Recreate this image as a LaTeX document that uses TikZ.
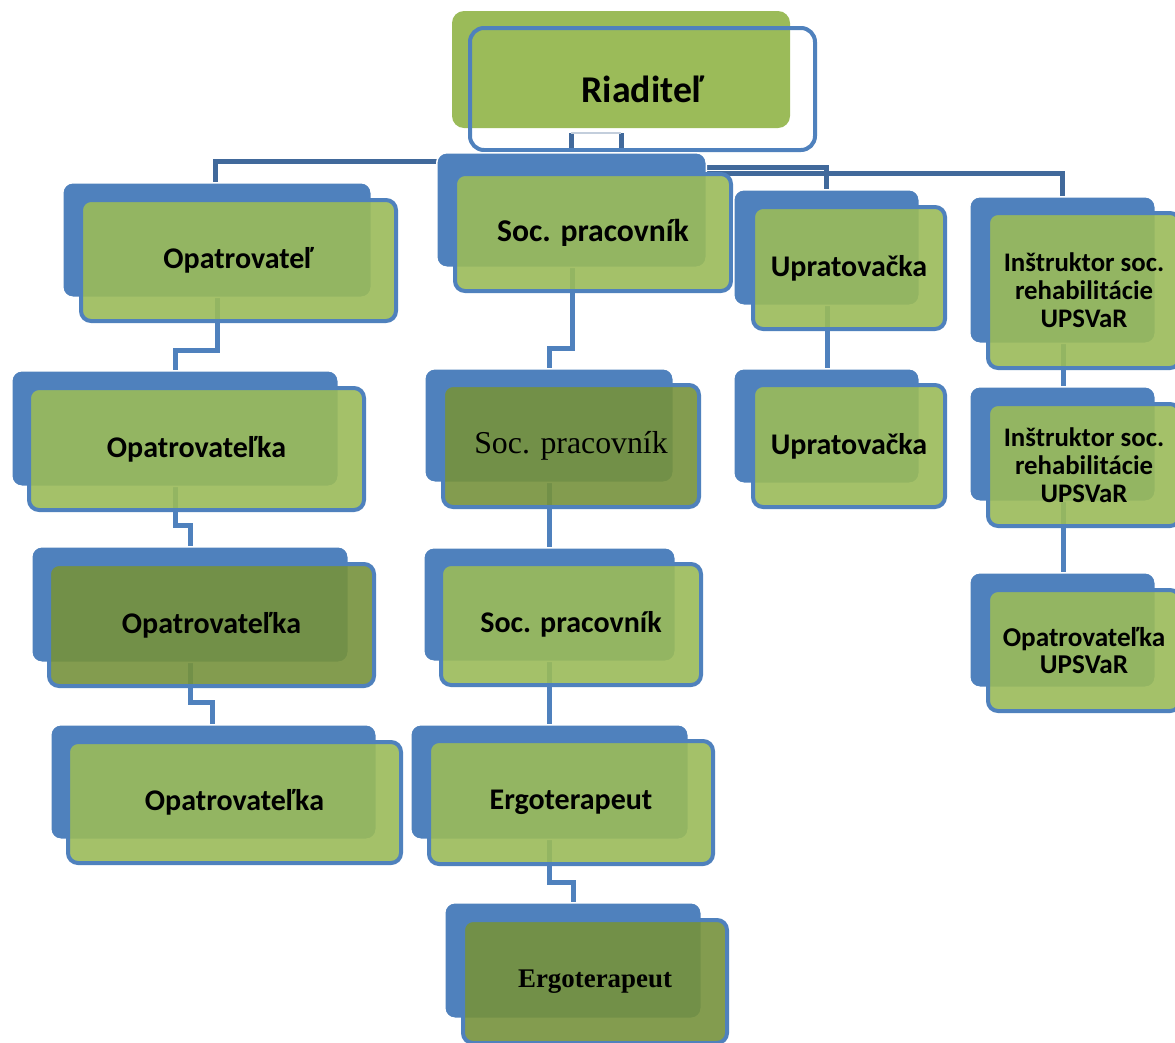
\documentclass[tikz,border=0pt]{standalone}
\usepackage{fontspec}
\setmainfont{Carlito}
\newfontfamily\tnr{Liberation Serif}
\definecolor{blueA}{HTML}{4F81BD}
\definecolor{busB}{HTML}{41699B}
\definecolor{greenA}{HTML}{9BBB59}
\definecolor{greenD}{HTML}{76923C}
\definecolor{thinB}{HTML}{C3CEDC}
\pgfdeclarelayer{paper}
\pgfdeclarelayer{bg}
\pgfsetlayers{paper,bg,main}
\tikzset{
 backbox/.style={rounded corners=10pt, fill=blueA, draw=white, line width=1.5pt, inner sep=0pt},
 frontbox/.style={rounded corners=10pt, draw=blueA, line width=4pt, fill=greenA, fill opacity=0.9, text opacity=1, inner sep=0pt, align=center, font=\bfseries\fontsize{30}{35}\selectfont},
 darkbox/.style={frontbox, fill=greenD},
 conn/.style={draw=blueA, line width=5pt},
 bus/.style={draw=busB, line width=5pt},
 smallfont/.style={font=\bfseries\fontsize{26.8}{28}\selectfont},
}
\newcommand\backrect[5]{\node[backbox, minimum width={#4-#2-1.5}, minimum height={#5-#3-1.5}] (#1) at ({(#2+#4)/2},{(#3+#5)/2}) {};}
\newcommand\frontrect[7]{\node[#6, minimum width={#4-#2-4}, minimum height={#5-#3-4}] (#1) at ({(#2+#4)/2},{(#3+#5)/2}) {#7};}
\begin{document}
\begin{tikzpicture}[x=1pt,y=-1pt]
\begin{pgfonlayer}{paper}
\fill[white] (0,0) rectangle (1175,1042);
\end{pgfonlayer}
\useasboundingbox (0,0) rectangle (1175,1042);

% Riaditel
\node[fill=greenA, rounded corners=12pt, minimum width=338pt, minimum height=117pt, inner sep=0pt] (riadG) at (621,69.5) {};
\node[draw=blueA, line width=4pt, rounded corners=14pt, minimum width=345pt, minimum height=122pt, inner sep=0pt, font=\bfseries\fontsize{37.8}{42}\selectfont] (riadO) at (642.5,89) {Riaditeľ};

% left column
\backrect{opatB}{62}{182}{372}{298}
\frontrect{opatF}{79}{198}{398}{323}{frontbox}{Opatrovateľ}
\backrect{opk1B}{11}{370}{339}{487}
\frontrect{opk1F}{27}{386}{366}{512}{frontbox}{Opatrovateľka}
\backrect{opk2B}{31}{546}{349}{663}
\frontrect{opk2F}{47}{562}{376}{688}{darkbox}{Opatrovateľka}
\backrect{opk3B}{50}{724}{377}{840}
\frontrect{opk3F}{66}{740}{403}{865}{frontbox}{Opatrovateľka}

% middle column
\backrect{soc1B}{436}{152}{707}{268}
\frontrect{soc1F}{453}{172}{733}{293}{frontbox,font=\bfseries\fontsize{31.7}{35}\selectfont}{Soc. pracovník}
\backrect{soc2B}{424}{368}{674}{483}
\frontrect{soc2F}{441}{383}{701}{509}{darkbox,font=\tnr\fontsize{31.8}{36}\selectfont}{Soc. pracovník}
\backrect{soc3B}{423}{547}{676}{662}
\frontrect{soc3F}{439}{562}{703}{687}{frontbox}{Soc. pracovník}
\backrect{erg1B}{410}{724}{689}{840}
\frontrect{erg1F}{427}{739}{715}{866}{frontbox}{Ergoterapeut}
\backrect{erg2B}{444}{902}{702}{1019}
\frontrect{erg2F}{461}{918}{729}{1045}{darkbox,font=\tnr\bfseries\fontsize{26.9}{30}\selectfont}{Ergoterapeut}

% Upratovacka column
\backrect{upr1B}{733}{189}{920}{306}
\frontrect{upr1F}{751}{205}{947}{331}{frontbox}{Upratovačka}
\backrect{upr2B}{733}{368}{920}{484}
\frontrect{upr2F}{751}{383}{947}{509}{frontbox}{Upratovačka}

% right column
\backrect{ins1B}{969}{196}{1156}{344}
\frontrect{ins1F}{986}{211}{1182}{370}{frontbox,smallfont}{Inštruktor soc.\\rehabilitácie\\UPSVaR}
\backrect{ins2B}{969}{386}{1156}{502}
\frontrect{ins2F}{986}{402}{1182}{528}{frontbox,smallfont}{Inštruktor soc.\\rehabilitácie\\UPSVaR}
\backrect{opuB}{969}{572}{1156}{688}
\frontrect{opuF}{986}{588}{1182}{713}{frontbox,font=\bfseries\fontsize{27.2}{27.5}\selectfont}{Opatrovateľka\\UPSVaR}

\coordinate (rstubL) at (571,133);
\coordinate (rstubR) at (621,133);

\begin{pgfonlayer}{bg}
% top bus
\draw[bus] (rstubL) -- (rstubL |- riadO.south);
\draw[bus] (rstubR) -- (rstubR |- riadO.south);
\draw[thinB, line width=1.5pt] (rstubL) -- (rstubR);
\draw[bus] (215,0 |- opatB.north) |- (soc1B.center |- 0,161);
\draw[bus] (soc1B.center |- 0,167) -| (upr1B.north);
\draw[bus] (soc1B.center |- 0,173) -| (ins1B.north);
% left chain
\draw[conn] (217,0 |- opatB.south) -- (217,350) -- (175,350) -- (175,0 |- opk1B.north);
\draw[conn] (175,0 |- opk1B.south) -- (175,525) -- (190,525) -- (190,0 |- opk2B.north);
\draw[conn] (190,0 |- opk2B.south) -- (190,702) -- (212,702) -- (212,0 |- opk3B.north);
% middle chain
\draw[conn] (572,0 |- soc1B.south) -- (572,348) -- (549,348) -- (549,0 |- soc2B.north);
\draw[conn] (549,0 |- soc2B.south) -- (549,0 |- soc3B.north);
\draw[conn] (549,0 |- soc3B.south) -- (549,0 |- erg1B.north);
\draw[conn] (549,0 |- erg1B.south) -- (549,882) -- (573,882) -- (573,0 |- erg2B.north);
% Upratovacka
\draw[conn] (827,0 |- upr1B.south) -- (827,0 |- upr2B.north);
% right chain
\draw[conn] (1063,0 |- ins1B.south) -- (1063,0 |- ins2B.north);
\draw[conn] (1063,0 |- ins2B.south) -- (1063,0 |- opuB.north);
\end{pgfonlayer}
\end{tikzpicture}
\end{document}
